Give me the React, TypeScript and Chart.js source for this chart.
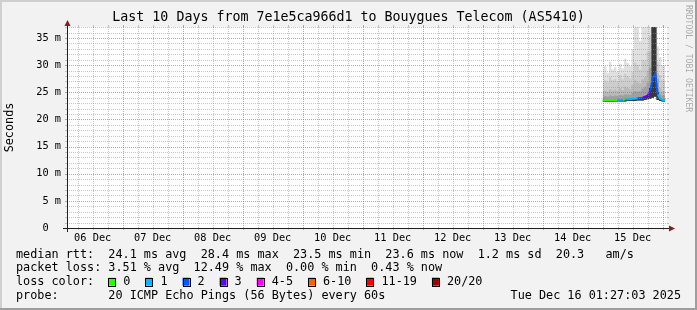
import React, { useEffect, useRef } from "react";
import { Chart, registerables } from "chart.js";

Chart.register(...registerables);

// ---------- texts ----------
const titleText = "Last 10 Days from 7e1e5ca966d1 to Bouygues Telecom (AS5410)";
const yAxisTitle = "Seconds";
const watermarkText = "RRDTOOL / TOBI OETIKER";
const medianRttRow = "median rtt:  24.1 ms avg  28.4 ms max  23.5 ms min  23.6 ms now  1.2 ms sd  20.3   am/s";
const packetLossRow = "packet loss: 3.51 % avg  12.49 % max  0.00 % min  0.43 % now";
const lossColorTitle = "loss color:";
const lossLabels = ["0", "1", "2", "3", "4-5", "6-10", "11-19", "20/20"];
const lossColors = ["#26ff00", "#00b8ff", "#0059ff", "#5e00ff", "#ff00ff", "#ff5e00", "#ff0000", "#a10000"];
const probeRow = "probe:       20 ICMP Echo Pings (56 Bytes) every 60s";
const dateText = "Tue Dec 16 01:27:03 2025";

// ---------- axes (x in hours since 06 Dec 00:00) ----------
const xMin = 1.72;
const xMax = 241.72;
const xGridHours = [6, 12, 18, 24, 30, 36, 42, 48, 54, 60, 66, 72, 78, 84, 90, 96, 102, 108, 114, 120,
  126, 132, 138, 144, 150, 156, 162, 168, 174, 180, 186, 192, 198, 204, 210, 216, 222, 228, 234, 240];
const dayMidnights = [24, 48, 72, 96, 120, 144, 168, 192, 216, 240];
const dayLabelHours = [12, 36, 60, 84, 108, 132, 156, 180, 204, 228];
const dayLabels = ["06 Dec", "07 Dec", "08 Dec", "09 Dec", "10 Dec", "11 Dec", "12 Dec", "13 Dec", "14 Dec", "15 Dec"];
const yMax = 37.03;
const yGridValues = [0, 1, 2, 3, 4, 5, 6, 7, 8, 9, 10, 11, 12, 13, 14, 15, 16, 17, 18, 19, 20,
  21, 22, 23, 24, 25, 26, 27, 28, 29, 30, 31, 32, 33, 34, 35, 36, 37];
const yLabelValues = [0, 5, 10, 15, 20, 25, 30, 35];
const yLabels = ["0  ", "5 m", "10 m", "15 m", "20 m", "25 m", "30 m", "35 m"];

// ---------- data (ms) ----------
const hours = [216, 217, 218, 219, 220, 221, 222, 223, 224, 225, 226, 227, 228, 229, 230, 231, 232, 233, 234, 235, 236, 237, 238, 239, 240, 241];
const medianRtt = [23.5, 23.5, 23.5, 23.5, 23.5, 23.6, 23.6, 23.6, 23.6, 23.7, 23.7, 23.7, 23.8, 23.8, 23.9, 23.9, 24.0, 24.2, 24.4, 25.2, 27.6, 28.4, 24.6, 23.8, 23.6, 23.6];
const lossCount = [0, 0, 0, 0, 0, 0, 1, 1, 0, 1, 1, 1, 1, 1, 2, 2, 3, 3, 3, 2, 2, 2, 1, 1, 1, 1];
const smokeMin = [23.2, 23.2, 23.2, 23.2, 23.2, 23.3, 23.3, 23.3, 23.3, 23.3, 23.4, 23.4, 23.4, 23.4, 23.5, 23.5, 23.5, 23.6, 23.7, 23.8, 24.0, 24.2, 23.6, 23.4, 23.3, 23.3];
const smokeCore = [23.6, 23.6, 23.6, 23.6, 23.6, 23.7, 23.7, 23.7, 23.7, 23.8, 23.8, 23.8, 23.9, 23.9, 24.0, 24.0, 24.1, 24.3, 24.5, 25.8, 37.1, 37.1, 25.0, 23.9, 23.7, 23.7];
const smokeInner = [24.2, 24.3, 24.2, 24.4, 24.3, 24.4, 24.3, 24.5, 24.4, 24.6, 24.6, 24.5, 24.9, 25.2, 25.1, 25.2, 25.7, 26.0, 26.8, 29.5, 37.1, 37.1, 27.5, 24.8, 24.4, 24.4];
const smokeMid = [25.0, 25.3, 25.1, 25.5, 25.3, 25.5, 25.2, 25.8, 25.4, 26.0, 25.8, 25.6, 26.4, 27.2, 26.8, 26.6, 27.4, 27.8, 29.0, 32.5, 37.1, 37.1, 28.5, 25.8, 25.2, 25.2];
const smokeHigh = [26.8, 27.2, 26.9, 27.8, 27.2, 27.5, 27.0, 28.2, 27.4, 28.4, 28.0, 27.6, 28.8, 30.5, 30.0, 29.2, 31.0, 30.8, 32.5, 35.5, 37.1, 37.1, 30.5, 28.2, 27.2, 27.2];
const smokeMax = [29.0, 29.8, 28.6, 30.6, 29.2, 29.6, 28.8, 30.2, 29.4, 31.2, 30.4, 29.8, 33.0, 37.1, 37.1, 34.5, 37.1, 37.1, 37.1, 37.1, 37.1, 37.1, 33.5, 31.5, 30.0, 30.0];

// ---------- styles ----------
const W = 697;
const H = 310;
const MONO = '"DejaVu Sans Mono", monospace';
const BACK = "#f2f2f2";
const SHADE_A = "#cfcfcf";
const SHADE_B = "#9e9e9e";
const GRID = "rgba(143,143,143,0.5)";
const MGRID = "rgba(235,70,70,0.6)";
const AXIS = "#1f1f1f";
const ARROW = "#801f1f";

const pts = (arr: number[]) => hours.map((h, i) => ({ x: h, y: arr[i] }));

const rrdPlugin = {
  id: "rrd",
  beforeDraw(chart: any) {
    const { ctx, chartArea: a } = chart;
    ctx.save();
    ctx.fillStyle = BACK;
    ctx.fillRect(0, 0, W, H);
    ctx.fillStyle = SHADE_A;
    ctx.fillRect(0, 0, W, 2);
    ctx.fillRect(0, 0, 2, H);
    ctx.fillStyle = SHADE_B;
    ctx.fillRect(0, H - 2, W, 2);
    ctx.fillRect(W - 2, 0, 2, H);
    ctx.fillStyle = "#ffffff";
    ctx.fillRect(a.left, a.top, a.right - a.left, a.bottom - a.top);
    ctx.restore();
  },
  afterDatasetsDraw(chart: any) {
    const { ctx, chartArea: a } = chart;
    const xs = chart.scales.x;
    const ys = chart.scales.y;
    ctx.save();
    ctx.lineWidth = 1;
    const drawSet = (major: boolean) => {
      ctx.strokeStyle = major ? MGRID : GRID;
      ctx.setLineDash([1, 1]);
      ctx.beginPath();
      yGridValues.forEach((v) => {
        if (v === 0 || (v % 5 === 0) !== major) return;
        const y = Math.round(ys.getPixelForValue(v)) + 0.5;
        ctx.moveTo(a.left, y);
        ctx.lineTo(a.right, y);
      });
      xGridHours.forEach((h) => {
        if ((dayMidnights.indexOf(h) >= 0) !== major) return;
        const x = Math.round(xs.getPixelForValue(h)) + 0.5;
        ctx.moveTo(x, a.bottom);
        ctx.lineTo(x, a.top);
      });
      ctx.stroke();
      // solid little ticks outside the plot
      ctx.setLineDash([]);
      ctx.beginPath();
      yGridValues.forEach((v) => {
        if (v === 0 || (v % 5 === 0) !== major) return;
        const y = Math.round(ys.getPixelForValue(v)) + 0.5;
        ctx.moveTo(a.left - 2, y);
        ctx.lineTo(a.left, y);
        ctx.moveTo(a.right, y);
        ctx.lineTo(a.right + 2, y);
      });
      xGridHours.forEach((h) => {
        if ((dayMidnights.indexOf(h) >= 0) !== major) return;
        const x = Math.round(xs.getPixelForValue(h)) + 0.5;
        ctx.moveTo(x, a.bottom);
        ctx.lineTo(x, a.bottom + 2);
        ctx.moveTo(x, a.top - 2);
        ctx.lineTo(x, a.top);
      });
      ctx.stroke();
    };
    drawSet(false);
    drawSet(true);
    ctx.restore();
  },
  afterDraw(chart: any) {
    const { ctx, chartArea: a } = chart;
    ctx.save();
    ctx.lineWidth = 1;
    // axes
    const x0 = a.left + 0.5;
    const y0 = a.bottom + 0.5;
    ctx.strokeStyle = AXIS;
    ctx.beginPath();
    ctx.moveTo(a.left - 4, y0);
    ctx.lineTo(a.right + 4, y0);
    ctx.moveTo(x0, a.bottom + 4);
    ctx.lineTo(x0, a.top - 4);
    ctx.stroke();
    // arrows
    ctx.fillStyle = ARROW;
    ctx.beginPath();
    ctx.moveTo(a.right + 2, y0 - 3);
    ctx.lineTo(a.right + 8, y0);
    ctx.lineTo(a.right + 2, y0 + 3);
    ctx.closePath();
    ctx.fill();
    ctx.beginPath();
    ctx.moveTo(x0 - 3, a.top - 1);
    ctx.lineTo(x0, a.top - 7);
    ctx.lineTo(x0 + 3, a.top - 1);
    ctx.closePath();
    ctx.fill();

    // title
    ctx.fillStyle = "#000";
    ctx.font = `13.3px ${MONO}`;
    ctx.textAlign = "center";
    ctx.textBaseline = "middle";
    ctx.fillText(titleText, W / 2, 18);

    // y axis title
    ctx.font = `11.8px ${MONO}`;
    ctx.save();
    ctx.translate(10, (a.top + a.bottom) / 2);
    ctx.rotate(-Math.PI / 2);
    ctx.fillText(yAxisTitle, 0, 0);
    ctx.restore();

    // watermark
    ctx.save();
    ctx.font = `8.1px ${MONO}`;
    ctx.fillStyle = "#ababab";
    ctx.translate(688, 5);
    ctx.rotate(Math.PI / 2);
    ctx.textAlign = "left";
    ctx.fillText(watermarkText, 0, 0);
    ctx.restore();

    // legend
    ctx.font = `11.8px ${MONO}`;
    ctx.textAlign = "left";
    ctx.fillStyle = "#000";
    const rows = [254.5, 268, 281.7, 295.5];
    ctx.fillText(medianRttRow, 16, rows[0]);
    ctx.fillText(packetLossRow, 16, rows[1]);
    ctx.fillText(lossColorTitle, 16, rows[2]);
    let bx = 108.3;
    lossLabels.forEach((lab, i) => {
      ctx.fillStyle = lossColors[i];
      ctx.fillRect(bx, rows[2] - 4, 7, 8);
      ctx.strokeStyle = "#000";
      ctx.strokeRect(Math.round(bx) + 0.5, Math.round(rows[2] - 4) + 0.5, 7, 8);
      ctx.fillStyle = "#000";
      ctx.fillText(lab, bx + 15, rows[2]);
      bx += 15 + ctx.measureText(lab).width + 15;
    });
    ctx.fillText(probeRow, 16, rows[3]);
    ctx.textAlign = "right";
    ctx.fillText(dateText, 681, rows[3]);
    ctx.restore();
  },
};

function smokeLayer(label: string, arr: number[], color: string) {
  return {
    type: "line",
    label,
    data: pts(arr),
    stepped: "middle",
    borderWidth: 0,
    borderColor: "rgba(0,0,0,0)",
    backgroundColor: color,
    pointRadius: 0,
    fill: 6,
  };
}

export default function App() {
  const ref = useRef<HTMLCanvasElement | null>(null);
  useEffect(() => {
    if (!ref.current) return;
    const chart = new Chart(ref.current, {
      type: "line",
      data: {
        datasets: [
          {
            label: "median rtt",
            data: pts(medianRtt),
            borderWidth: 2,
            borderColor: lossColors[0],
            pointRadius: 0,
            fill: false,
            tension: 0,
            segment: {
              borderColor: (c: any) => lossColors[lossCount[c.p0DataIndex]],
            },
          } as any,
          smokeLayer("core", smokeCore, "#383838"),
          smokeLayer("inner", smokeInner, "#a0a0a0"),
          smokeLayer("mid", smokeMid, "#bababa"),
          smokeLayer("high", smokeHigh, "#cdcdcd"),
          smokeLayer("max", smokeMax, "#e0e0e0"),
          {
            label: "min",
            data: pts(smokeMin),
            stepped: "middle",
            borderWidth: 0,
            borderColor: "rgba(0,0,0,0)",
            pointRadius: 0,
            fill: false,
          } as any,
        ],
      },
      options: {
        responsive: false,
        devicePixelRatio: 1,
        animation: false,
        events: [],
        layout: { padding: { left: 0, right: 30, top: 27, bottom: 0 } },
        plugins: {
          legend: { display: false },
          tooltip: { enabled: false },
          title: { display: false },
        },
        scales: {
          x: {
            type: "linear",
            min: xMin,
            max: xMax,
            afterBuildTicks: (s: any) => {
              s.ticks = xGridHours.map((v) => ({ value: v }));
            },
            afterFit: (s: any) => {
              s.height = 82;
            },
            grid: { display: false, drawTicks: false },
            border: { display: false },
            ticks: {
              autoSkip: false,
              maxRotation: 0,
              minRotation: 0,
              padding: 4,
              color: "#000",
              font: { family: MONO, size: 10.3 },
              callback: (v: any) => {
                const i = dayLabelHours.indexOf(Number(v));
                return i >= 0 ? dayLabels[i] : "";
              },
            },
          },
          y: {
            type: "linear",
            min: 0,
            max: yMax,
            afterBuildTicks: (s: any) => {
              s.ticks = yGridValues.map((v) => ({ value: v }));
            },
            afterFit: (s: any) => {
              s.width = 67;
            },
            grid: { display: false, drawTicks: false },
            border: { display: false },
            ticks: {
              autoSkip: false,
              padding: 6,
              color: "#000",
              font: { family: MONO, size: 10.3 },
              callback: (v: any) => {
                const i = yLabelValues.indexOf(Number(v));
                return i >= 0 ? yLabels[i] : "";
              },
            },
          },
        },
      } as any,
      plugins: [rrdPlugin],
    });
    return () => chart.destroy();
  }, []);
  return (
    <div style={{ position: "fixed", left: 0, top: 0, width: W, height: H }}>
      <canvas ref={ref} width={W} height={H} style={{ display: "block", width: W, height: H }} />
    </div>
  );
}
